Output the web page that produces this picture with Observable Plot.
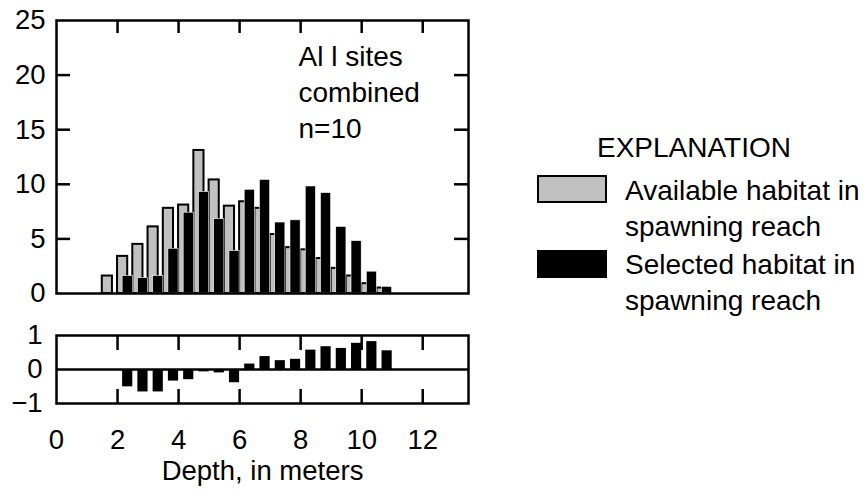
<!DOCTYPE html>
<html>
<head>
<meta charset="utf-8">
<script src="https://cdn.jsdelivr.net/npm/d3@7"></script>
<script src="https://cdn.jsdelivr.net/npm/@observablehq/plot@0.6"></script>
<style>
  html, body { margin: 0; padding: 0; background: #fff; }
  #wrap { position: relative; width: 864px; height: 493px; overflow: hidden; background: #fff;
          font-family: "Liberation Sans", Arial, Helvetica, sans-serif; color: #000; }
  .abs { position: absolute; }
  .lg { position: absolute; font-size: 28px; line-height: 36px; white-space: nowrap; }
  .sw { position: absolute; box-sizing: border-box; width: 70px; height: 28px; border: 2.5px solid #000; }
</style>
</head>
<body>
<div id="wrap">
  <div id="top" class="abs" style="left:0;top:0"></div>
  <div id="bottom" class="abs" style="left:0;top:320px"></div>
  <div class="lg" style="left:597px;top:130px">EXPLANATION</div>
  <div class="sw" style="left:537px;top:175px;background:#c0c0c0"></div>
  <div class="lg" style="left:625px;top:173px">Available habitat in<br>spawning reach</div>
  <div class="sw" style="left:537px;top:250px;background:#000"></div>
  <div class="lg" style="left:625px;top:247px">Selected habitat in<br>spawning reach</div>
</div>
<script>
// ---- data ----
const depthBins = [1.5, 2.0, 2.5, 3.0, 3.5, 4.0, 4.5, 5.0, 5.5, 6.0, 6.5, 7.0, 7.5, 8.0, 8.5, 9.0, 9.5, 10.0, 10.5];
const available = [1.6, 3.4, 4.5, 6.1, 7.8, 8.1, 13.1, 10.4, 8.0, 8.4, 7.8, 5.4, 4.2, 4.0, 3.2, 2.3, 1.6, 0.9, 0.5];
const selected  = [0, 1.6, 1.4, 1.6, 4.1, 7.4, 9.3, 6.8, 3.9, 9.5, 10.4, 6.5, 6.7, 9.8, 9.2, 6.1, 4.8, 2.0, 0.6];
const diffBins = [2.0, 2.5, 3.0, 3.5, 4.0, 4.5, 5.0, 5.5, 6.0, 6.5, 7.0, 7.5, 8.0, 8.5, 9.0, 9.5, 10.0, 10.5];
const difference = [-0.51, -0.66, -0.66, -0.34, -0.30, -0.07, -0.10, -0.39, 0.16, 0.38, 0.26, 0.30, 0.57, 0.67, 0.62, 0.77, 0.82, 0.55];
const binWidth = 0.5;
const xTicks = [2, 4, 6, 8, 10, 12];
const xLabels = [0, 2, 4, 6, 8, 10, 12];
const yTicksTop = [0, 5, 10, 15, 20, 25];
const yInnerTop = [5, 10, 15, 20];
const yTicksBottom = [-1, 0, 1];
const noteText = "Al l sites\ncombined\nn=10";
const xLabel = "Depth, in meters";

// ---- tables ----
const rows = depthBins.map((d, i) => ({
  a1: d, a2: d + binWidth * 2 / 3,
  s1: d + binWidth / 3, s2: d + binWidth,
  available: available[i], selected: selected[i]
}));
const diffRows = diffBins.map((d, i) => ({ s1: d + binWidth / 3, s2: d + binWidth, diff: difference[i] }));

const font = '"Liberation Sans", Arial, Helvetica, sans-serif';
const W = 480, ML = 56, MR = 12;
const innerW = W - ML - MR;
const lw = 2.5;
const fs = 27.5;

// ---- top panel ----
const topH = 312, topMT = 20, topMB = 19;
const topInnerH = topH - topMT - topMB;
const topPlot = Plot.plot({
  width: W, height: topH, marginLeft: ML, marginRight: MR, marginTop: topMT, marginBottom: topMB,
  style: { fontFamily: font, fontSize: fs + "px", color: "#000", background: "transparent" },
  x: { domain: [0, 13.5], axis: null },
  y: { domain: [0, 25] },
  marks: [
    Plot.rect(rows, { x1: "a1", x2: "a2", y1: () => 0, y2: "available", fill: "#c0c0c0", stroke: "#000", strokeWidth: 2 }),
    Plot.rect(rows.filter(r => r.selected > 0), { x1: "s1", x2: "s2", y1: () => 0, y2: "selected", fill: "#000", stroke: "#fff", strokeWidth: 0.6 }),
    Plot.ruleX(xTicks, { x: d => d, insetBottom: topInnerH - 13, stroke: "#000", strokeWidth: lw }),
    Plot.ruleY(yInnerTop, { y: d => d, insetRight: innerW - 14, stroke: "#000", strokeWidth: lw }),
    Plot.ruleY(yInnerTop, { y: d => d, insetLeft: innerW - 14, stroke: "#000", strokeWidth: lw }),
    Plot.axisY({ ticks: yTicksTop, tickSize: 0, tickPadding: 11, fontSize: fs, label: null }),
    Plot.text([noteText], { text: d => d, frameAnchor: "top-left", dx: 242, dy: 20, textAnchor: "start", lineAnchor: "top", lineHeight: 1.28, fontSize: 28, fill: "#000" }),
    Plot.frame({ stroke: "#000", strokeWidth: lw })
  ]
});
document.getElementById("top").appendChild(topPlot);

// ---- bottom panel ----
const botH = 173, botMT = 15, botMB = 90;
const botInnerH = botH - botMT - botMB;
const botPlot = Plot.plot({
  width: W, height: botH, marginLeft: ML, marginRight: MR, marginTop: botMT, marginBottom: botMB,
  style: { fontFamily: font, fontSize: fs + "px", color: "#000", background: "transparent", overflow: "visible" },
  x: { domain: [0, 13.5] },
  y: { domain: [-1, 1] },
  marks: [
    Plot.rect(diffRows, { x1: "s1", x2: "s2", y1: () => 0, y2: "diff", fill: "#000" }),
    Plot.ruleY([0], { stroke: "#000", strokeWidth: lw }),
    Plot.ruleX(xTicks, { x: d => d, insetBottom: botInnerH - 15, stroke: "#000", strokeWidth: lw }),
    Plot.ruleX(xTicks, { x: d => d, insetTop: botInnerH - 14, stroke: "#000", strokeWidth: lw }),
    Plot.axisY({ ticks: yTicksBottom, tickFormat: d => d < 0 ? "\u2212" + Math.abs(d) : String(d), tickSize: 0, tickPadding: 14, fontSize: fs, label: null }),
    Plot.axisX({ ticks: xLabels, tickSize: 0, tickPadding: 26, fontSize: fs, label: xLabel, labelAnchor: "center", labelArrow: "none", labelOffset: 76 }),
    Plot.frame({ stroke: "#000", strokeWidth: lw })
  ]
});
document.getElementById("bottom").appendChild(botPlot);
</script>
</body>
</html>
